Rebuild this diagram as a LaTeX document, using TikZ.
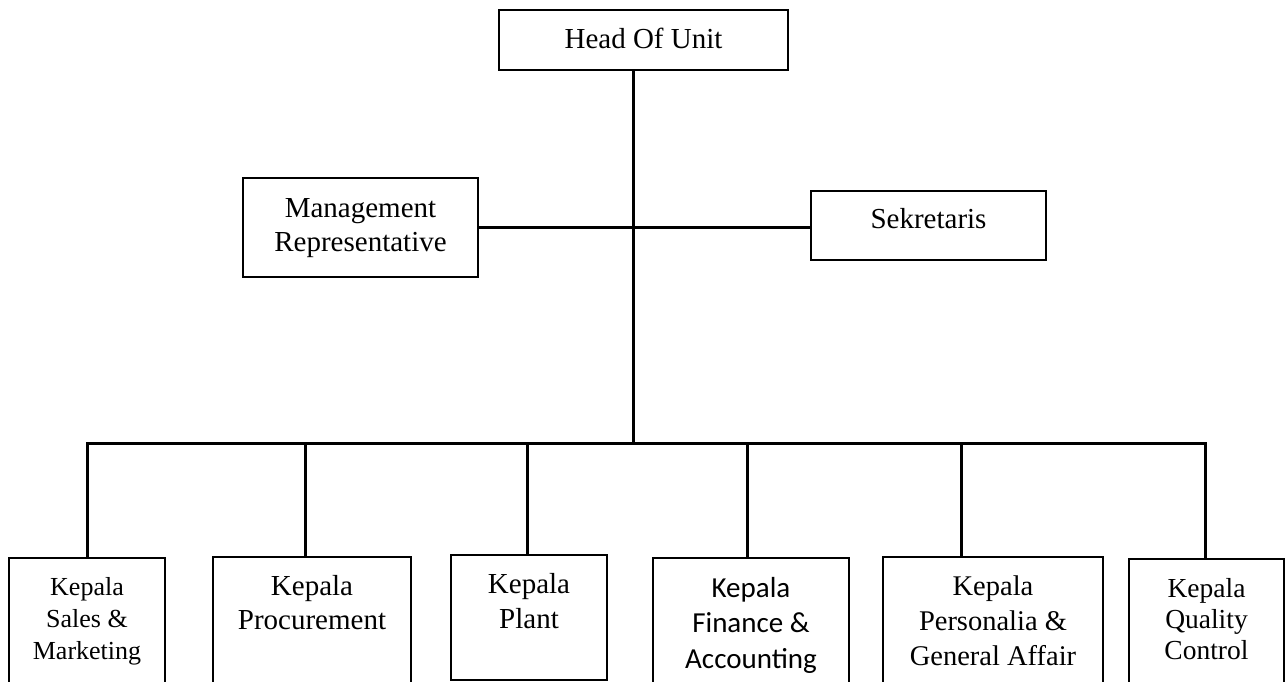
\documentclass[tikz,border=0pt]{standalone}
\usepackage{fontspec}
\setmainfont{Liberation Serif}
\newfontfamily\calibrifont{Carlito}
% #1 width, #2 height, #3 first baseline from top, #4 font size, #5 line spacing, #6 text
\newcommand{\orgbox}[6]{\parbox[t][#2pt][t]{#1pt}{\centering\fontsize{#4pt}{#5pt}\selectfont\rule{0pt}{#3pt}#6}}
\begin{document}
\begin{tikzpicture}[x=1pt,y=-1pt,
  box/.style={draw,line width=1.3pt,inner sep=0pt,outer sep=0pt,anchor=north west},
  conn/.style={line width=3pt}]
\clip (0,0) rectangle (1285,682);
\useasboundingbox (0,0) rectangle (1285,682);
% top level
\node[box] (head) at (499,10) {\orgbox{289}{60}{39}{29}{35}{Head Of Unit}};
\node[box] (mr) at (243,178) {\orgbox{235}{99}{39}{29}{34}{Management\\Representative}};
\node[box] (sek) at (811,191) {\orgbox{235}{69}{37}{29}{35}{Sekretaris}};
% bottom level
\node[box] (b1) at (9,558) {\orgbox{156}{142}{37}{26}{32}{Kepala\\Sales \&\\Marketing}};
\node[box] (b2) at (213,557) {\orgbox{198}{143}{38}{29}{34}{Kepala\\Procurement}};
\node[box] (b3) at (451,555) {\orgbox{156}{125}{38}{29}{35}{Kepala\\Plant}};
\node[box] (b4) at (653,558) {\orgbox{196}{142}{39}{29}{35.5}{\calibrifont Kepala\\Finance \&\\Accounting}};
\node[box] (b5) at (883,557) {\orgbox{220}{143}{38}{28.5}{35}{Kepala\\Personalia \&\\General Affair}};
\node[box] (b6) at (1129,559) {\orgbox{155}{141}{38}{27.5}{31}{Kepala\\Quality\\Control}};
% connectors
\coordinate (j) at (633,443);
\coordinate (m) at (633,227.5);
\coordinate (t1) at (87,443);
\coordinate (t2) at (305,443);
\coordinate (t3) at (527,443);
\coordinate (t4) at (747,443);
\coordinate (t5) at (961,443);
\coordinate (t6) at (1205,443);
\draw[conn] (head.south -| j) -- (j);
\draw[conn] (mr.east |- m) -- (m -| sek.west);
\draw[conn,line join=miter] (t1 |- b1.north) -- (t1) -- (t6) -- (t6 |- b6.north);
\foreach \i in {2,3,4,5}{
  \draw[conn] (t\i) -- (t\i |- b\i.north);
}
\end{tikzpicture}
\end{document}
